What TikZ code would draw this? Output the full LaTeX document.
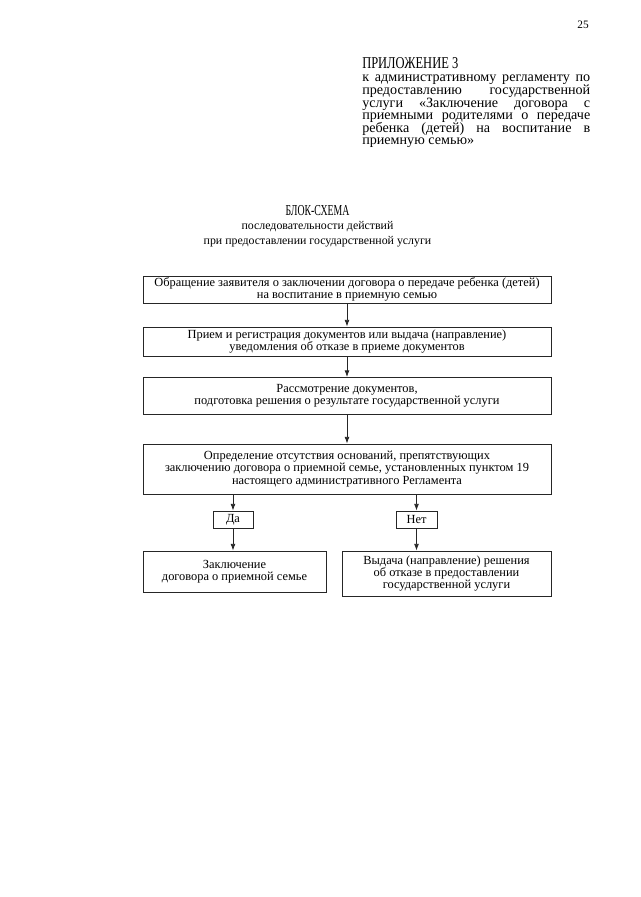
\documentclass[tikz,border=0pt]{standalone}
\usepackage{fontspec}
\setmainfont{Liberation Serif}
\usetikzlibrary{arrows.meta}
\def\px{0.75pt}
\newcommand\jline[1]{\makebox[171pt][s]{#1}}
\newcommand\tightlines{\lineskiplimit=-20pt\relax}
\begin{document}
\begin{tikzpicture}[x=0.75pt,y=-0.75pt,
  box/.style={draw=black!85,line width=0.6pt,inner sep=0pt,align=center,
    font=\fontsize{9.3}{9.3}\selectfont\tightlines},
  tagbox/.style={box,minimum width=40*\px,minimum height=17*\px},
  arr/.style={line width=0.6pt,draw=black!85,-{Latex[length=5pt,width=3.6pt]}},
  ln/.style={line width=0.6pt,draw=black!85}]
\useasboundingbox[fill=white] (0,0) rectangle (640,897);
\node[font=\fontsize{8.5}{9}\selectfont] (pg) at (583,25) {25};
\node[anchor=north west,inner sep=0pt,align=left,
  font=\fontsize{10.6}{9.45}\selectfont\tightlines] (hdr) at (362,57)
 {\resizebox{72pt}{\height}{\fontsize{12.4}{9.45}\selectfont ПРИЛОЖЕНИЕ 3}\\[0.8pt]
  \jline{к административному регламенту по}\\
  \jline{предоставлению государственной}\\
  \jline{услуги «Заключение договора с}\\
  \jline{приемными родителями о передаче}\\
  \jline{ребенка (детей) на воспитание в}\\
  приемную семью»};
\node[align=center,inner sep=0pt,font=\fontsize{8.9}{10.7}\selectfont\tightlines] (ttl) at (317.5,226)
 {\resizebox{48pt}{\height}{\fontsize{11.4}{10.6}\selectfont БЛОК-СХЕМА}\\последовательности действий\\при предоставлении государственной услуги};
\node[box,minimum width=408*\px,minimum height=27*\px] (b1) at (347,289.5)
 {Обращение заявителя о заключении договора о передаче ребенка (детей)\\на воспитание в приемную семью};
\node[box,minimum width=408*\px,minimum height=29*\px] (b2) at (347,341.5)
 {Прием и регистрация документов или выдача (направление)\\уведомления об отказе в приеме документов};
\node[box,minimum width=408*\px,minimum height=37*\px] (b3) at (347,396)
 {Рассмотрение документов,\\подготовка решения о результате государственной услуги};
\node[box,minimum width=408*\px,minimum height=50*\px] (b4) at (347,469)
 {Определение отсутствия оснований, препятствующих\\заключению договора о приемной семье, установленных пунктом 19\\настоящего административного Регламента};
\node[tagbox] (da) at (233,519.5) {Да};
\node[tagbox,minimum width=41*\px] (net) at (416.5,519.5) {Нет};
\node[box,minimum width=183*\px,minimum height=41*\px] (b5) at (234.5,571.5)
 {Заключение\\договора о приемной семье};
\node[box,minimum width=209*\px,minimum height=45*\px] (b6) at (446.5,573.5)
 {Выдача (направление) решения\\об отказе в предоставлении\\государственной услуги};
\draw[arr] (b1) -- (b2);
\draw[arr] (b2) -- (b3);
\draw[arr] (b3) -- (b4);
\draw[arr] (da |- b4.south) -- (da.north);
\draw[arr] (net |- b4.south) -- (net.north);
\draw[arr] (da.south) -- (da |- b5.north);
\draw[arr] (net.south) -- (net |- b6.north);
\end{tikzpicture}
\end{document}
